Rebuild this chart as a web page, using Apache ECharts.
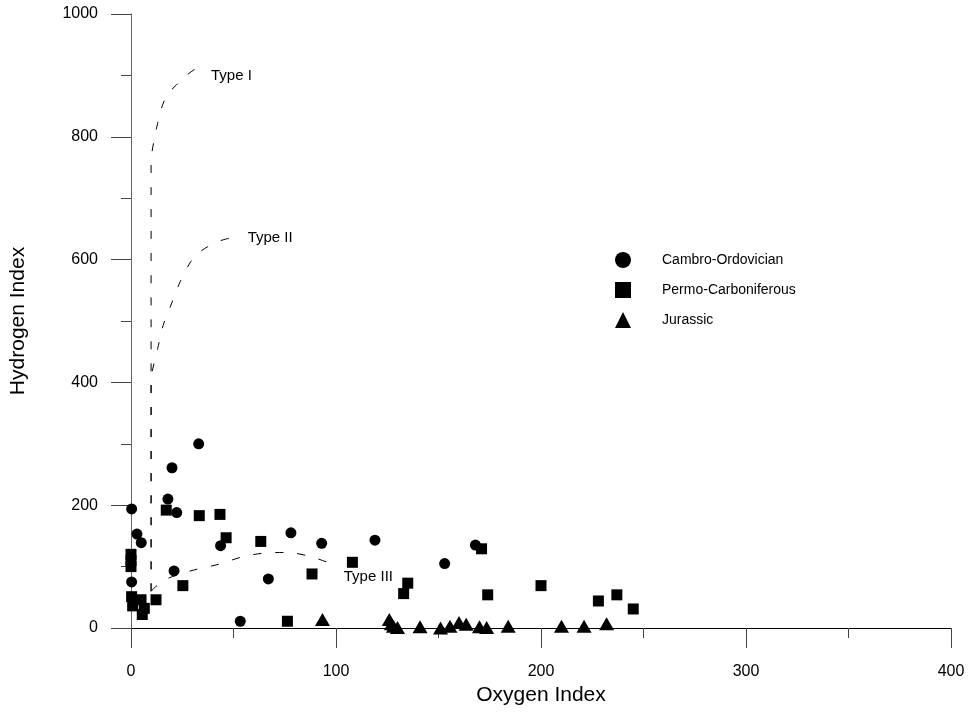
<!DOCTYPE html>
<html>
<head>
<meta charset="utf-8">
<script src="https://cdn.jsdelivr.net/npm/echarts@6/dist/echarts.min.js"></script>
<style>html,body{margin:0;padding:0;background:#fff;}#c{width:972px;height:713px;}</style>
</head>
<body>
<div id="c"></div>
<script>
// ---- data (Oxygen Index, Hydrogen Index) ----
const cambroOrdovician = [[0.3,194],[2.9,153],[5,139],[18,210],[20,261],[22.3,188],[33,300],[43.7,134],[21,93],[0.3,75],[53.3,11],[67,80],[78,155],[93,138],[119,143],[153,105],[168,135]];
const permoCarboniferous = [[0,120],[0,110],[0,100],[0.3,51],[0.8,36],[4.9,46],[6.5,32],[5.5,22],[12.2,46],[17.2,192],[25.3,69],[33.3,183],[43.4,185],[46.4,147],[63.3,141],[76.3,11],[88.3,88],[108,107],[133,56],[135,73],[171,129],[174,54],[200,69],[228,44],[237,54],[245,31]];
const jurassic = [[93.4,14],[126,14],[127,7],[128,3],[130,1],[141,2],[151,0],[155.6,3],[160,9],[163.5,6],[170,2],[173.5,1],[184,3],[210,3],[221,3],[232,7]];
const typeICurve = [[9.8,60],[9.8,400],[9.8,760],[11,790],[13,822],[15.4,852],[18,870],[22,884],[27,900],[32.8,914]];
const typeIICurve = [[9.8,60],[9.8,400],[10.5,420],[13,455],[15.7,493],[19.5,526],[24,564],[29.2,597],[33,611],[37.4,621],[42,629],[48,635]];
const typeIIICurve = [[9.8,60],[13,70],[17,79],[22,86],[32.5,96],[43,104],[54.4,116],[65,122],[76,123],[88,116],[98,104]];
const typeLabels = ['Type I','Type II','Type III'];
const typeLabelPos = [[39,900],[56.9,635],[103.8,83]];
const seriesNames = ['Cambro-Ordovician','Permo-Carboniferous','Jurassic'];
const xTicks = {min:0,max:400,interval:100};
const yTicks = {min:0,max:1000,interval:200};

const font = 'Liberation Sans, Arial, sans-serif';
const chart = echarts.init(document.getElementById('c'), null, {renderer:'canvas'});
const dash = [8,14];
function curve(data){
  return {type:'line',data:data,showSymbol:false,symbol:'none',silent:true,smooth:0.3,
    lineStyle:{color:'#000',width:1,type:dash},z:1};
}
chart.setOption({
  animation:false,
  backgroundColor:'#fff',
  grid:{left:130,right:21,top:14,bottom:85},
  legend:{
    data:seriesNames,orient:'vertical',left:610,top:247,itemWidth:16,itemHeight:16,itemGap:14,
    textStyle:{fontFamily:font,fontSize:14,color:'#000',padding:[0,0,0,26]}
  },
  xAxis:{type:'value',min:xTicks.min,max:xTicks.max,interval:xTicks.interval,
    name:'Oxygen Index',nameLocation:'middle',nameGap:55,
    nameTextStyle:{fontFamily:font,fontSize:21,color:'#000'},
    axisLine:{lineStyle:{color:'#000',width:1}},
    axisTick:{show:true,length:20,lineStyle:{color:'#444'}},
    minorTick:{show:true,splitNumber:2,length:10,lineStyle:{color:'#444'}},
    axisLabel:{margin:36,fontFamily:font,fontSize:16,color:'#000',formatter:v=>String(v)},
    splitLine:{show:false}},
  yAxis:{type:'value',min:yTicks.min,max:yTicks.max,interval:yTicks.interval,
    name:'Hydrogen Index',nameLocation:'middle',nameGap:102,
    nameTextStyle:{fontFamily:font,fontSize:21,color:'#000'},
    axisLine:{show:true,lineStyle:{color:'#666',width:1}},
    axisTick:{show:true,length:20,lineStyle:{color:'#444'}},
    minorTick:{show:true,splitNumber:2,length:10,lineStyle:{color:'#444'}},
    axisLabel:{margin:33,fontFamily:font,fontSize:16,color:'#000',formatter:v=>String(v)},
    splitLine:{show:false}},
  series:[
    curve(typeICurve),curve(typeIICurve),curve(typeIIICurve),
    {type:'scatter',data:typeLabelPos.map((p,i)=>({value:p,name:typeLabels[i]})),symbolSize:0,silent:true,
      itemStyle:{opacity:1},
      label:{show:true,position:'right',distance:0,formatter:p=>p.name,fontFamily:font,fontSize:15,color:'#000'}},
    {name:seriesNames[0],type:'scatter',symbol:'circle',symbolSize:11,data:cambroOrdovician,itemStyle:{color:'#000',opacity:1},z:3},
    {name:seriesNames[1],type:'scatter',symbol:'rect',symbolSize:11,data:permoCarboniferous,itemStyle:{color:'#000',opacity:1},z:3},
    {name:seriesNames[2],type:'scatter',symbol:'triangle',symbolSize:[15,13],data:jurassic,itemStyle:{color:'#000',opacity:1},z:3}
  ]
});
</script>
</body>
</html>
